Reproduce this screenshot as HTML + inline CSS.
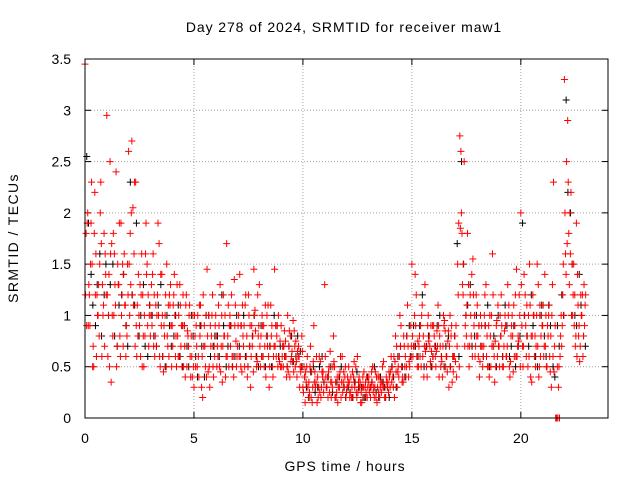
<!DOCTYPE html>
<html><head><meta charset="utf-8"><style>
body{margin:0;background:#fff}
svg{display:block;font-family:"Liberation Sans",sans-serif;font-size:14px}
.lbl{letter-spacing:0.9px}
</style></head><body>
<svg id="chart" width="640" height="480">
<rect width="640" height="480" fill="#fff"/>
<text class="lbl" x="344" y="32" text-anchor="middle">Day 278 of 2024, SRMTID for receiver maw1</text>
<text class="lbl" transform="translate(18,238) rotate(-90)" text-anchor="middle" style="letter-spacing:1.4px">SRMTID / TECUs</text>
<text class="lbl" x="345" y="471" text-anchor="middle">GPS time / hours</text>
<g id="grid"></g>
<g id="ticks"></g>
<g id="series"></g>
<rect x="85" y="59" width="523" height="359" fill="none" stroke="#000"/>
</svg>
<script>
const xTicks=[0,5,10,15,20];
const yTicks=[0,0.5,1,1.5,2,2.5,3,3.5];
const yTickLabels=["0","0.5","1","1.5","2","2.5","3","3.5"];
const redA=[3.45,1.9,1.2,2.3,0.5,1.6,1.0,2.0,1.3,0.7,
2.95,1.4,0.35,1.8,1.1,1.5,0.8,1.2,1.6,0.9,
2.6,1.3,2.05,0.7,1.1,0.9,1.6,0.5,1.9,1.2,
0.8,1.4,0.6,1.0,1.7,0.9,0.45,1.2,0.7,1.1,
0.9,1.4,0.5,1.0,0.7,1.2,0.4,0.85,1.1,0.6,
0.3,0.9,0.6,1.1,0.2,0.7,1.45,0.5,0.8,0.4,
1.0,0.6,1.3,0.35,0.8,1.7,0.5,0.9,0.6,1.1,
0.7,1.4,0.45,0.9,0.6,1.2,0.3,0.8,1.05,0.55,
1.3,0.6,0.9,0.4,1.1,0.7,0.5,1.45,0.8,0.6,
0.9,0.5,0.75,1.0,0.4,0.65,0.85,0.55,0.7,0.45,
0.3,0.15,0.6,0.25,0.45,0.9,0.35,0.2,0.55,0.4,
1.3,0.3,0.5,0.2,0.8,0.35,0.15,0.45,0.6,0.3,
0.25,0.5,0.4,0.2,0.35,0.6,0.3,0.15,0.45,0.25,
0.35,0.2,0.5,0.3,0.15,0.4,0.25,0.55,0.2,0.35,
0.3,0.5,0.2,0.7,0.4,0.9,0.35,0.6,1.1,0.5,
1.5,0.7,1.2,0.5,0.9,0.6,1.3,0.4,0.8,0.65,
0.9,0.5,1.1,0.7,0.4,0.95,0.6,0.3,0.8,0.45,
0.55,1.5,2.75,1.8,2.5,0.8,1.3,1.0,1.55,0.6,
1.1,0.4,0.9,0.7,1.3,0.5,0.8,1.6,0.35,0.95,
0.7,1.2,0.5,0.9,1.3,0.4,1.0,0.6,1.45,0.75,
2.0,0.5,1.2,0.8,1.5,0.35,1.0,0.7,1.3,0.6,
0.9,1.4,0.5,1.1,0.3,2.3,0.0,0.0,0.6,0.9,
3.3,2.5,1.8,2.2,1.2,0.7,1.4,0.55,1.0,1.3];
const redB=[1.8,0.9,1.5,0.5,2.2,1.2,0.8,1.7,1.1,1.4,
0.6,2.5,1.0,1.6,0.5,1.3,1.9,0.7,1.1,1.5,
1.0,2.7,1.6,0.9,1.4,0.6,1.2,0.8,1.5,1.0,
1.3,0.7,1.1,1.9,0.5,1.0,0.8,1.5,0.6,0.9,
1.1,0.6,0.8,1.3,0.5,0.9,1.2,0.7,0.4,1.0,
0.8,0.5,1.1,0.3,0.7,1.0,0.45,0.9,1.2,0.6,
0.5,0.9,0.7,1.2,0.4,0.8,1.0,0.6,1.35,0.5,
1.0,0.5,0.8,1.1,0.4,0.7,0.9,1.45,0.6,0.8,
0.5,0.9,0.7,1.0,0.3,0.8,0.6,0.9,0.5,0.75,
0.6,0.85,0.4,0.7,0.55,0.95,0.5,0.65,0.3,0.8,
0.5,0.35,0.2,0.7,0.3,0.45,0.15,0.6,0.3,0.25,
0.4,0.2,0.65,0.3,0.5,0.25,0.4,0.2,0.35,0.5,
0.4,0.2,0.3,0.55,0.25,0.35,0.15,0.4,0.3,0.2,
0.25,0.45,0.3,0.2,0.4,0.3,0.5,0.2,0.35,0.45,
0.6,0.3,0.8,0.45,1.0,0.35,0.7,0.5,0.4,0.9,
0.6,1.4,0.5,0.8,1.0,0.4,0.7,1.0,0.55,0.9,
0.7,0.85,0.4,0.6,1.0,0.5,0.75,1.0,0.35,0.6,
0.4,1.9,2.6,1.2,0.9,1.8,0.7,1.4,0.9,1.2,
0.6,1.0,0.5,1.2,0.8,0.4,1.0,0.7,0.5,1.1,
1.0,0.5,0.85,0.6,1.1,0.8,0.45,1.2,0.7,1.0,
0.9,1.4,0.6,1.0,0.4,1.2,0.8,1.5,0.5,1.0,
0.6,1.0,0.8,0.45,1.3,0.7,0.0,0.5,1.0,1.5,
1.6,2.9,2.0,1.5,0.9,1.9,0.8,1.2,0.6,1.1];
const redC=[1.2,2.0,0.9,1.5,1.8,0.6,1.3,2.3,1.0,1.6,
1.2,0.5,1.7,1.0,2.4,1.3,0.6,1.5,1.1,0.8,
1.5,2.0,1.1,2.3,0.8,1.3,0.5,1.0,1.4,0.7,
1.0,1.6,0.8,1.2,0.6,1.4,0.9,0.5,1.1,1.3,
0.7,1.0,1.3,0.6,0.9,0.5,1.1,0.8,0.6,0.4,
1.0,0.7,0.4,0.9,1.2,0.5,0.8,0.3,1.0,0.7,
0.8,1.1,0.45,0.7,1.0,0.6,0.9,1.2,0.4,0.75,
0.9,0.6,1.1,0.5,0.8,1.0,0.6,0.45,0.85,1.2,
0.7,1.0,0.5,0.8,0.6,1.1,0.4,0.7,0.9,0.55,
0.5,0.7,0.6,0.45,0.8,0.55,0.7,0.4,0.6,0.5,
0.25,0.45,0.3,0.5,0.15,0.35,0.6,0.3,0.2,0.45,
0.6,0.4,0.25,0.35,0.55,0.2,0.3,0.6,0.25,0.4,
0.3,0.35,0.2,0.4,0.5,0.25,0.35,0.3,0.2,0.4,
0.4,0.3,0.25,0.45,0.3,0.2,0.35,0.3,0.4,0.25,
0.45,0.4,0.55,0.3,0.6,0.5,0.8,0.4,0.7,0.6,
0.8,1.0,0.6,0.7,0.5,0.8,0.65,0.9,0.7,0.5,
0.8,0.65,0.9,0.5,0.7,0.85,0.45,0.7,0.9,0.6,
0.9,1.2,1.85,1.3,0.7,1.1,0.5,0.8,1.2,0.7,
0.8,0.55,0.7,1.0,0.6,0.9,0.5,1.2,0.75,0.6,
0.5,0.9,0.7,0.6,1.0,0.55,0.8,0.9,0.6,1.2,
1.3,0.7,0.9,0.5,1.1,0.8,0.6,1.0,0.4,0.8,
1.1,0.7,0.9,0.6,1.0,0.45,0.0,0.3,0.8,1.2,
2.0,1.7,1.3,1.0,1.5,0.8,1.1,0.7,1.2,0.9];
const redD=[0.9,1.3,1.9,0.7,1.2,1.0,1.5,0.6,1.8,1.2,
1.0,1.6,0.8,1.3,0.7,1.9,1.0,1.4,0.6,1.2,
1.8,1.2,2.3,0.6,1.0,1.2,0.8,1.6,0.9,1.1,
0.9,1.2,0.7,1.0,1.4,0.6,1.0,0.8,1.2,0.5,
1.2,0.8,0.6,1.1,0.9,0.7,0.5,1.0,0.8,0.5,
0.5,1.0,0.8,0.6,0.9,0.4,1.0,0.7,0.5,0.9,
0.7,0.5,1.0,0.8,0.6,1.1,0.7,0.5,0.9,0.6,
0.6,0.9,0.7,1.2,0.5,0.9,0.7,1.0,0.5,0.9,
0.8,0.6,1.1,0.7,0.5,0.9,0.7,0.6,1.0,0.5,
0.7,0.6,0.5,0.85,0.6,0.45,0.75,0.6,0.5,0.65,
0.4,0.5,0.35,0.2,0.55,0.3,0.4,0.25,0.45,0.35,
0.3,0.45,0.35,0.5,0.2,0.4,0.3,0.35,0.45,0.2,
0.35,0.25,0.45,0.3,0.2,0.4,0.25,0.3,0.35,0.3,
0.3,0.35,0.2,0.4,0.25,0.35,0.3,0.2,0.3,0.4,
0.35,0.6,0.45,0.5,0.7,0.4,0.5,0.8,0.55,0.7,
0.7,0.9,0.75,0.6,1.1,0.7,0.5,0.75,0.9,0.6,
0.6,0.7,0.8,0.55,0.9,0.6,0.85,0.5,0.6,0.8,
0.7,0.5,2.0,1.5,1.0,0.7,1.2,0.6,1.0,0.8,
0.9,0.7,0.6,0.9,0.5,1.0,0.7,0.6,0.9,0.7,
0.8,0.6,1.0,0.7,0.5,0.9,1.1,0.6,0.8,0.5,
0.7,1.0,1.1,0.6,0.8,1.0,0.5,0.7,1.1,0.9,
0.7,0.5,1.0,0.8,0.6,0.9,0.5,0.0,0.7,1.0,
1.4,2.3,1.6,1.0,1.2,0.6,0.9,1.0,0.8,1.2];
const blackC=[2.55,1.4,0.9,1.6,1.2, 1.0,1.5,0.7,1.2,0.9, 2.3,1.1,0.8,1.3,0.6, 1.0,0.7,1.3,0.5,0.9,
0.8,1.1,0.5,0.7,1.0, 0.6,0.9,0.4,1.0,0.7, 0.8,1.2,0.5,0.9,0.6, 0.7,1.0,0.5,0.8,0.6,
0.9,0.5,0.7,1.0,0.6, 0.7,0.5,0.8,0.6,0.65, 0.4,0.2,0.5,0.3,0.6, 0.3,0.5,0.2,0.4,0.3,
0.3,0.2,0.45,0.3,0.2, 0.3,0.5,0.2,0.35,0.3, 0.5,0.3,0.7,0.4,0.9, 0.9,0.6,1.2,0.7,0.5,
0.7,1.0,0.5,0.8,0.6, 1.7,2.5,1.0,1.3,0.8, 0.9,0.6,1.1,0.7,0.5, 0.8,1.1,0.6,0.9,0.7,
1.9,0.8,1.2,0.6,1.0, 0.8,1.1,0.5,0.9,1.2, 3.1,2.0,1.0,1.4,0.8];
const blackD=[1.9,1.1,1.3,0.8,1.5, 1.3,0.8,1.1,1.4,0.7, 1.2,1.9,1.0,0.7,1.1, 0.8,1.1,0.6,1.0,0.7,
1.0,0.6,0.9,0.5,0.8, 0.4,0.7,1.0,0.6,0.8, 0.6,0.9,0.7,0.5,1.0, 0.9,0.6,0.7,1.0,0.5,
0.6,0.8,0.5,0.9,0.7, 0.6,0.7,0.55,0.8,0.5, 0.3,0.45,0.25,0.5,0.35, 0.4,0.25,0.35,0.5,0.2,
0.25,0.35,0.3,0.2,0.4, 0.35,0.25,0.4,0.3,0.2, 0.4,0.6,0.5,0.8,0.6, 0.7,0.9,0.5,0.8,0.6,
0.9,0.6,0.7,0.5,0.8, 0.6,1.5,1.1,0.7,1.0, 0.7,0.9,0.5,0.8,1.0, 0.6,0.9,0.7,0.5,0.8,
1.0,0.7,0.9,0.5,1.1, 0.6,0.9,0.4,0.7,1.0, 2.2,1.5,0.9,1.1,0.7];
const NS="http://www.w3.org/2000/svg";
const X0=85,X1=608,Y0=418,Y1=59,XMAX=24,YMAX=3.5;
function sx(v){return X0+(X1-X0)*v/XMAX;}
function sy(v){return Y0-(Y0-Y1)*v/YMAX;}
function mk(tag,attrs,parent){const e=document.createElementNS(NS,tag);for(const k in attrs)e.setAttribute(k,attrs[k]);parent.appendChild(e);return e;}
const grid=document.getElementById('grid'),ticks=document.getElementById('ticks'),series=document.getElementById('series');
xTicks.forEach(t=>{const x=sx(t);
 if(t>0){const g=mk('line',{x1:x,x2:x,y1:Y0,y2:Y1,stroke:'#a0a0a0','stroke-dasharray':'1,2'},grid);
 
 }
 const l=mk('text',{x:x,y:443,'text-anchor':'middle'},ticks);l.textContent=t;
 
 
 mk('line',{x1:x,x2:x,y1:Y0,y2:Y0-6,stroke:'#000'},ticks);
 mk('line',{x1:x,x2:x,y1:Y1,y2:Y1+6,stroke:'#000'},ticks);});
yTicks.forEach((t,i)=>{const y=sy(t);
 if(t>0&&t<YMAX){const g=mk('line',{x1:X0,x2:X1,y1:y,y2:y,stroke:'#a0a0a0','stroke-dasharray':'1,2'},grid);
 
 }
 const l=mk('text',{x:71,y:y+5,'text-anchor':'end'},ticks);l.textContent=yTickLabels[i];
 
 
 mk('line',{x1:X0,x2:X0+6,y1:y,y2:y,stroke:'#000'},ticks);
 mk('line',{x1:X1,x2:X1-6,y1:y,y2:y,stroke:'#000'},ticks);});
function plot(arr,step,off,color,name){let d='';
 arr.forEach((v,i)=>{const x=sx(off+i*step),y=sy(v);d+=`M${x-3.5},${y}h7M${x},${y-3.5}v7`;});
 const p=mk('path',{d:d,stroke:color,'stroke-width':1,fill:'none'},series);
 
 }
plot(blackC,0.2,0.08,'#000','series-black-points-a');
plot(blackD,0.2,0.16,'#000','series-black-points-b');
plot(redA,0.1,0.0,'#f00','series-red-points-a');
plot(redB,0.1,0.05,'#f00','series-red-points-b');
plot(redC,0.1,0.025,'#f00','series-red-points-c');
plot(redD,0.1,0.075,'#f00','series-red-points-d');
</script>
</body></html>
